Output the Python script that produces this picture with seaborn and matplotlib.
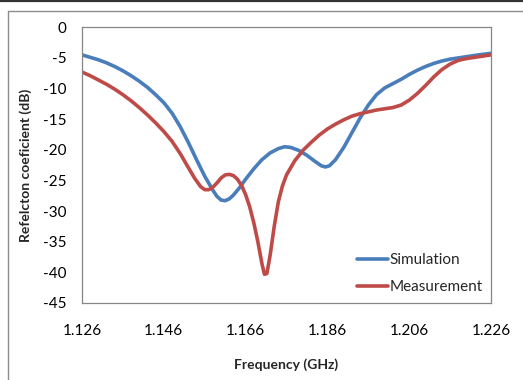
import matplotlib
matplotlib.use("Agg")
import matplotlib.pyplot as plt
from matplotlib.lines import Line2D
import seaborn as sns
import pandas as pd

sim_freq = [1.126, 1.128, 1.130, 1.132, 1.134, 1.136, 1.138, 1.140, 1.142, 1.144, 1.146,
            1.148, 1.150, 1.152, 1.154, 1.156, 1.158, 1.159, 1.160, 1.161, 1.162, 1.163,
            1.1645, 1.166, 1.168, 1.170, 1.172, 1.174, 1.1755, 1.177, 1.179, 1.181,
            1.183, 1.1845, 1.1855, 1.1865, 1.188, 1.190, 1.192, 1.194, 1.196, 1.198,
            1.200, 1.202, 1.204, 1.206, 1.208, 1.210, 1.212, 1.214, 1.216, 1.218,
            1.220, 1.223, 1.226]
sim_db = [-4.5, -4.9, -5.3, -5.8, -6.4, -7.1, -7.9, -8.8, -9.8, -11.0, -12.3,
          -14.0, -16.2, -18.8, -21.6, -24.3, -26.6, -27.6, -28.2, -28.3, -28.0, -27.4,
          -26.2, -24.8, -23.1, -21.6, -20.5, -19.8, -19.5, -19.6, -20.1, -20.9,
          -21.9, -22.6, -22.8, -22.6, -21.6, -19.6, -17.2, -14.8, -12.7, -11.0,
          -9.9, -9.2, -8.5, -7.7, -7.0, -6.4, -5.9, -5.5, -5.2, -5.0,
          -4.8, -4.5, -4.25]

meas_freq = [1.126, 1.128, 1.130, 1.132, 1.134, 1.136, 1.138, 1.140, 1.142, 1.144, 1.146,
             1.148, 1.150, 1.152, 1.1535, 1.155, 1.156, 1.157, 1.158, 1.159, 1.160, 1.161,
             1.162, 1.163, 1.164, 1.165, 1.166, 1.167, 1.168, 1.169, 1.170, 1.1706,
             1.1712, 1.172, 1.173, 1.174, 1.175, 1.176, 1.178, 1.180, 1.182, 1.184,
             1.186, 1.188, 1.190, 1.192, 1.194, 1.196, 1.198, 1.200, 1.202, 1.204,
             1.206, 1.208, 1.210, 1.212, 1.214, 1.216, 1.218, 1.220, 1.223, 1.226]
meas_db = [-7.3, -7.9, -8.6, -9.3, -10.1, -11.0, -12.0, -13.1, -14.3, -15.6, -17.0,
           -18.6, -20.6, -22.9, -24.6, -26.0, -26.5, -26.5, -26.1, -25.4, -24.6, -24.1,
           -24.0, -24.2, -24.8, -25.8, -27.3, -29.3, -31.9, -35.0, -38.6, -40.3,
           -40.2, -37.2, -32.5, -28.5, -25.9, -24.1, -21.8, -20.1, -18.8, -17.6,
           -16.6, -15.8, -15.1, -14.5, -14.1, -13.8, -13.5, -13.3, -13.1, -12.7,
           -11.9, -10.8, -9.5, -8.1, -6.9, -6.0, -5.4, -5.1, -4.8, -4.5]

series_names = ["Simulation", "Measurement"]
x_ticks = [1.126, 1.146, 1.166, 1.186, 1.206, 1.226]
y_ticks = [0, -5, -10, -15, -20, -25, -30, -35, -40, -45]

df = pd.concat([
    pd.DataFrame({"freq": sim_freq, "db": sim_db, "series": series_names[0]}),
    pd.DataFrame({"freq": meas_freq, "db": meas_db, "series": series_names[1]}),
], ignore_index=True)

sns.set_style("white")
plt.rcParams["font.family"] = ["Lato", "DejaVu Sans"]

fig = plt.figure(figsize=(5.23, 3.80), dpi=100)
ax = fig.add_axes([82 / 523, 1 - 303 / 380, (491 - 82) / 523, (303 - 27.3) / 380])

sns.lineplot(data=df, x="freq", y="db", hue="series", hue_order=series_names,
             palette=["#4A7EBB", "#BE4B48"], estimator=None, sort=False,
             linewidth=2.6, ax=ax)
for ln in ax.get_lines():
    ln.set_solid_joinstyle("round")
    ln.set_solid_capstyle("round")

ax.set_xlim(1.126, 1.226)
ax.set_ylim(-45, 0)
ax.set_xticks(x_ticks)
ax.set_xticklabels([f"{t:.3f}" for t in x_ticks])
ax.set_yticks(y_ticks)
ax.set_yticklabels([str(t) for t in y_ticks])
ax.tick_params(axis="x", length=0, pad=15, labelsize=11, colors="#000000")
ax.tick_params(axis="y", length=0, pad=11, labelsize=11, colors="#000000")
for s in ax.spines.values():
    s.set_color("#868686")
    s.set_linewidth(0.9)

ax.set_xlabel("Frequency (GHz)", fontsize=10, fontweight="bold", labelpad=14.5)
ax.set_ylabel("Refelcton coeficient (dB)", fontsize=10, fontweight="bold", labelpad=8)

leg = ax.legend(loc="upper left", bbox_to_anchor=((357 - 82) / 409, 1 - (253.5 - 27.3) / 275.7),
                frameon=False, fontsize=11, handlelength=2.0, handletextpad=0.15,
                labelspacing=0.85, borderaxespad=0, borderpad=0)
for ln in leg.get_lines():
    ln.set_linewidth(2.6)

# outer chart frame
fig.add_artist(Line2D([8 / 523, 8 / 523], [0, 1 - 10.5 / 380], color="#8c8c8c", lw=1.0))
fig.add_artist(Line2D([8 / 523, 1], [1 - 10.5 / 380, 1 - 10.5 / 380], color="#8c8c8c", lw=1.0))
fig.add_artist(Line2D([0, 1], [1 - 0.8 / 380, 1 - 0.8 / 380], color="#333333", lw=1.6))

fig.savefig("out.png", dpi=100, facecolor="white")
